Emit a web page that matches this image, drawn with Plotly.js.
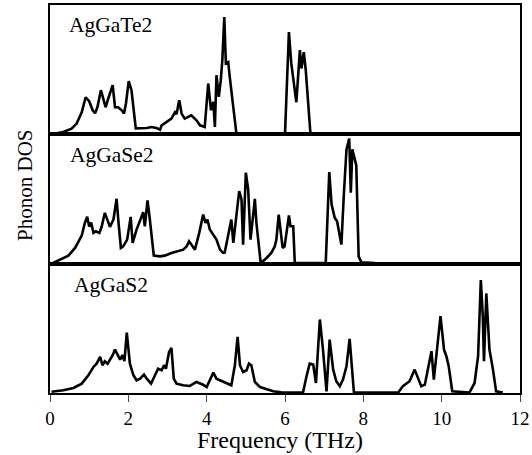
<!DOCTYPE html>
<html>
<head>
<meta charset="utf-8">
<script src="https://cdn.plot.ly/plotly-3.0.1.min.js"></script>
<style>html,body{margin:0;padding:0;background:#fff}#chart{width:532px;height:455px}</style>
</head>
<body>
<div id="chart"></div>
<script>
// AgGaTe2 (top panel)
const teFreq = [0.04,0.34,0.55,0.68,0.81,0.91,1.00,1.09,1.15,1.21,1.30,1.36,1.42,1.49,1.60,1.66,1.74,1.83,1.89,1.94,2.01,2.08,2.19,2.47,2.59,2.72,2.81,2.85,2.98,3.10,3.19,3.23,3.30,3.36,3.44,3.53,3.61,3.74,3.83,3.95,4.04,4.11,4.17,4.21,4.25,4.31,4.36,4.40,4.45,4.49,4.55,4.59,4.76,6.00,6.10,6.16,6.29,6.38,6.42,6.48,6.53,6.65];
const teDOS  = [0,2.3,5.7,10.7,22,37,33,24,21,27,44,34,27,36,49,27,27,24,20.7,31,53,44,6,6.3,7.3,6.3,4.7,9,12.3,15.7,22,20,34,20.7,15.7,17.3,19,14,9,7.3,50.7,24,32.3,7.3,59,37.3,54,74,117,70.7,72,57,0.5,0.5,102,70.7,32,84,65.7,82,64,0.5];
// AgGaSe2 (middle panel)
const seFreq = [0.04,0.26,0.47,0.64,0.81,0.89,0.95,1.00,1.05,1.11,1.17,1.26,1.32,1.40,1.46,1.53,1.62,1.70,1.75,1.81,1.87,1.97,2.06,2.11,2.21,2.30,2.38,2.42,2.49,2.55,2.65,2.81,2.93,3.10,3.23,3.40,3.49,3.55,3.64,3.70,3.81,3.91,3.97,4.02,4.08,4.17,4.25,4.34,4.42,4.46,4.55,4.63,4.68,4.76,4.83,4.89,4.93,5.00,5.06,5.12,5.23,5.27,5.38,5.53,5.65,5.74,5.78,5.84,5.89,5.94,5.99,6.05,6.10,6.14,6.21,6.25,7.04,7.13,7.19,7.27,7.33,7.40,7.44,7.50,7.57,7.64,7.68,7.72,7.78,7.82,7.88,7.95,8.29];
const seDOS  = [0,4,8,15.7,28,40.7,46.7,37,41,30.7,32.3,30.7,37,50.7,44,36.7,44,64.7,40.7,15.7,17.3,24,46.7,20.7,34,44,51.3,37.3,63,44,8,7.3,8,10.7,12.3,14,17.3,22.3,17.3,14,30.7,49,40.7,44,34,29,24,14,10.7,11,27.3,44,20.7,50.7,72.3,64,19,90.7,74,24,64.7,40.7,0.5,5.7,10.7,17.3,24,49,34,15.7,17.3,37.3,48,37.3,37.3,0.5,0.5,91.3,59,45.7,42.3,27.3,19,67.3,114,124.7,70.7,114,102.3,98,7.3,1.3,0.5];
// AgGaS2 (bottom panel)
const sFreq = [0.04,0.34,0.60,0.81,0.98,1.11,1.19,1.28,1.34,1.40,1.47,1.53,1.60,1.66,1.74,1.79,1.85,1.90,1.96,2.01,2.04,2.13,2.21,2.30,2.40,2.47,2.58,2.68,2.76,2.85,2.91,2.96,3.04,3.10,3.16,3.23,3.40,3.57,3.74,3.91,4.00,4.08,4.17,4.25,4.42,4.63,4.72,4.79,4.85,4.93,5.02,5.08,5.14,5.23,5.36,5.53,5.70,5.90,6.46,6.55,6.63,6.72,6.79,6.89,6.97,7.06,7.14,7.23,7.31,7.40,7.48,7.57,7.65,7.76,8.89,9.01,9.18,9.31,9.40,9.48,9.57,9.65,9.74,9.80,9.88,9.97,10.06,10.12,10.18,10.27,10.71,10.84,10.93,11.00,11.05,11.08,11.14,11.22,11.31,11.39,11.56];
const sDOS  = [1.3,2.7,5,9.3,17.7,26,29.3,36,27.7,31.7,29.3,32.7,37.7,43.3,37.7,33.3,37.7,31.7,60.3,41,29.3,17.7,12.7,14.3,18.3,14.3,9.3,17.7,24.3,22.7,27.7,24.3,41,45,14.3,9.3,7.7,7,11,8.3,6,12.7,20.3,14.3,11,7.7,27.7,56,27.7,21,22.7,29.3,27.7,11,6,3.7,1.7,0.7,0.5,16.7,29.3,28.3,10,73.3,43.3,1.7,53.3,23.3,11.7,6.7,13.3,26.7,54,0.5,0.5,6.7,11.7,23.3,15,6.7,8.3,23.3,41.7,13.3,46.7,76.7,43.3,36.7,26.7,1.7,0.5,10,36.7,112.7,76.7,31.7,99.3,43.3,23.3,1.7,0.5];

const compounds = ['AgGaTe2','AgGaSe2','AgGaS2'];
const xTicks = [0,2,4,6,8,10,12];

const FONT = 'Liberation Serif';
const lineStyle = {color:'#000', width:2.6};

const traces = [
  {x: sFreq, y: sDOS, xaxis:'x', yaxis:'y', mode:'lines', line: lineStyle, hoverinfo:'skip'},
  {x: seFreq, y: seDOS, xaxis:'x2', yaxis:'y2', mode:'lines', line: lineStyle, hoverinfo:'skip'},
  {x: teFreq, y: teDOS, xaxis:'x3', yaxis:'y3', mode:'lines', line: lineStyle, hoverinfo:'skip'}
];

const yBase = {range:[0,129], showline:true, mirror:true, linecolor:'#000', linewidth:2,
  ticks:'', showticklabels:false, showgrid:false, zeroline:false, fixedrange:true};
const xUpper = {matches:'x', range:[0,12], showline:true, mirror:true, linecolor:'#000', linewidth:2,
  ticks:'', showticklabels:false, showgrid:false, zeroline:false};

const layout = {
  width:532, height:455,
  margin:{l:50, r:12, t:5, b:62},
  paper_bgcolor:'#fff', plot_bgcolor:'#fff',
  showlegend:false,
  font:{family:FONT, color:'#000'},
  xaxis:{domain:[0,1], range:[0,12], anchor:'y', showline:true, mirror:true, linecolor:'#000', linewidth:2,
    ticks:'outside', ticklen:7, tickwidth:1, tickcolor:'#444', tickvals:xTicks, ticktext:xTicks.map(String),
    tickfont:{family:FONT, size:19, color:'#000'}, showgrid:false, zeroline:false},
  xaxis2:Object.assign({anchor:'y2'}, xUpper),
  xaxis3:Object.assign({anchor:'y3'}, xUpper),
  yaxis:Object.assign({domain:[0,1/3], anchor:'x'}, yBase),
  yaxis2:Object.assign({domain:[1/3,2/3], anchor:'x2'}, yBase),
  yaxis3:Object.assign({domain:[2/3,1], anchor:'x3'}, yBase),
  annotations:[
    {text:compounds[0], xref:'paper', yref:'paper', x:0.036, y:0.948, xanchor:'left', yanchor:'middle', showarrow:false, font:{family:FONT, size:21.5}},
    {text:compounds[1], xref:'paper', yref:'paper', x:0.039, y:0.613, xanchor:'left', yanchor:'middle', showarrow:false, font:{family:FONT, size:21.5}},
    {text:compounds[2], xref:'paper', yref:'paper', x:0.047, y:0.278, xanchor:'left', yanchor:'middle', showarrow:false, font:{family:FONT, size:21.5}},
    {text:'Frequency (THz)', xref:'paper', yref:'paper', x:0.49, y:-0.12, xanchor:'center', yanchor:'middle', showarrow:false, font:{family:FONT, size:24}},
    {text:'Phonon DOS', xref:'paper', yref:'paper', x:-0.053, y:0.534, xanchor:'center', yanchor:'middle', textangle:-90, showarrow:false, font:{family:FONT, size:21}}
  ]
};

Plotly.newPlot('chart', traces, layout, {staticPlot:true, displayModeBar:false});
</script>
</body>
</html>
